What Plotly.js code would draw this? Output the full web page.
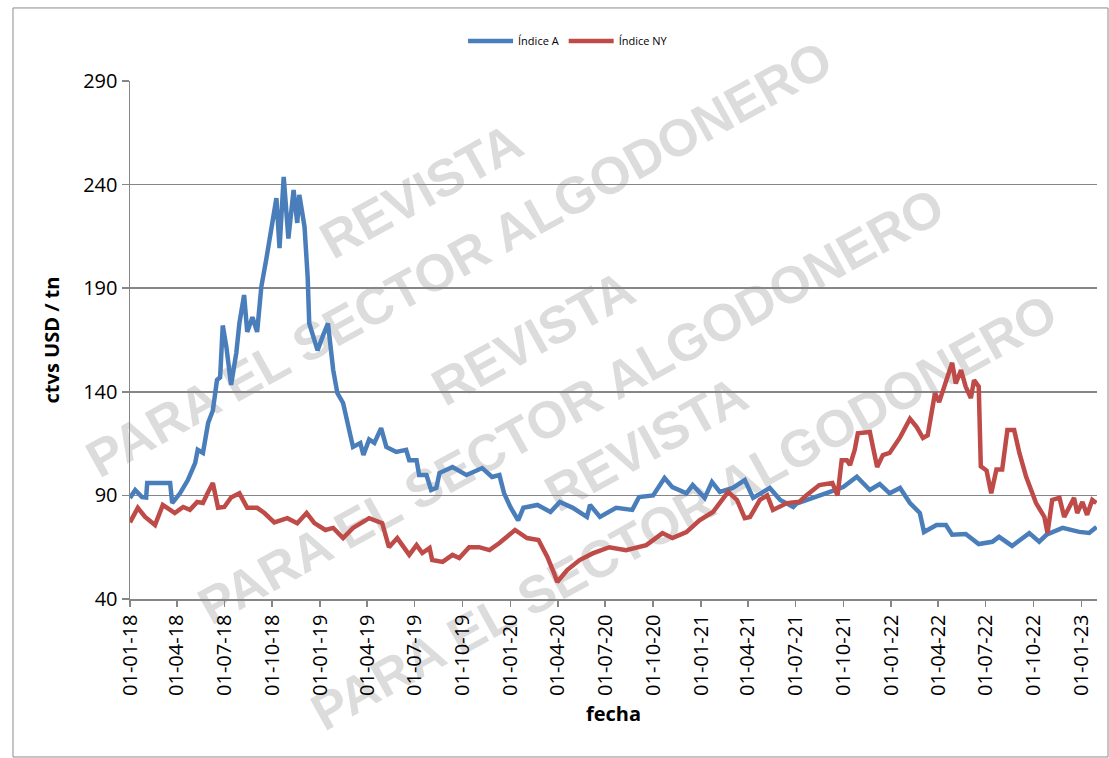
<!DOCTYPE html>
<html>
<head>
<meta charset="utf-8">
<script src="https://cdn.plot.ly/plotly-3.0.1.min.js"></script>
<style>
  html, body { margin:0; padding:0; background:#ffffff; overflow:hidden; }
  #wrap { position:relative; width:1109px; height:758px; overflow:hidden; }
  #wm { position:absolute; left:0; top:0; width:1109px; height:758px; z-index:0; }
  .wmb { position:absolute; transform:translate(-50%,-50%) rotate(-29deg); font-family:'Liberation Sans',Arial,sans-serif; font-weight:bold; font-size:52px; line-height:1.5; color:#dcdcdc; text-align:center; white-space:nowrap; }
  #chart { position:absolute; left:0; top:0; width:1109px; height:758px; z-index:1; }
</style>
</head>
<body>
<div id="wrap">
  <div id="wm">
    <div class="wmb" style="left:440px; top:225px;">REVISTA<br>PARA EL SECTOR ALGODONERO</div>
    <div class="wmb" style="left:552px; top:372px;">REVISTA<br>PARA EL SECTOR ALGODONERO</div>
    <div class="wmb" style="left:665px; top:478px;">REVISTA<br>PARA EL SECTOR ALGODONERO</div>
  </div>
  <div id="chart"></div>
</div>
<script>
// ---- Data ----
const datesA = [
 '2018-01-01','2018-01-11','2018-01-24','2018-02-01','2018-02-03','2018-03-19','2018-03-23','2018-04-07','2018-04-22','2018-05-06',
 '2018-05-11','2018-05-21','2018-05-31','2018-06-09','2018-06-17','2018-06-23','2018-06-28','2018-07-05','2018-07-14','2018-07-24',
 '2018-07-30','2018-08-08','2018-08-14','2018-08-24','2018-09-02','2018-09-10','2018-09-20','2018-09-29','2018-10-09','2018-10-15',
 '2018-10-23','2018-11-01','2018-11-11','2018-11-18','2018-11-22','2018-12-02','2018-12-08','2018-12-11','2018-12-21','2018-12-27',
 '2019-01-07','2019-01-16','2019-01-26','2019-02-03','2019-02-14','2019-02-28','2019-03-05','2019-03-19','2019-03-25','2019-04-05',
 '2019-04-15','2019-04-28','2019-05-08','2019-05-27','2019-06-15','2019-06-21','2019-07-05','2019-07-10','2019-07-24','2019-08-02',
 '2019-08-12','2019-08-18','2019-09-12','2019-10-09','2019-11-08','2019-11-27','2019-12-11','2019-12-20','2020-01-01','2020-01-16',
 '2020-01-26','2020-02-22','2020-03-18','2020-04-05','2020-04-30','2020-05-27','2020-06-02','2020-06-21','2020-07-22','2020-08-22',
 '2020-09-04','2020-10-01','2020-10-23','2020-11-07','2020-12-04','2020-12-16','2021-01-08','2021-01-22','2021-02-06','2021-03-03',
 '2021-03-26','2021-04-11','2021-05-13','2021-06-02','2021-06-27','2021-07-03','2021-08-03','2021-09-04','2021-10-01','2021-10-27',
 '2021-11-21','2021-12-10','2021-12-29','2022-01-18','2022-02-06','2022-02-25','2022-03-05','2022-03-29','2022-04-16','2022-04-28',
 '2022-05-24','2022-06-18','2022-07-14','2022-07-27','2022-08-21','2022-09-23','2022-10-12','2022-10-26','2022-11-26','2022-12-28',
 '2023-01-16','2023-01-30'
];
const indiceA = [
 88.8,92.6,89.2,89,96,96,86.3,91,97.4,105.6,
 112,110.5,125,131,145.7,147,172,161.6,143.3,158.7,
 173.2,186.7,168.9,176,168.9,190.6,204.6,217,233.5,209.4,
 243.7,214,237.4,221.5,235,219.6,195.4,173,164,160,
 167.5,173,150.5,139.4,134.6,120,113.4,115.3,109.5,117,
 115.3,122.5,113.4,111,112,107,107,99.8,99.8,92.6,
 93.6,100.8,103.7,99.8,103.2,98.9,99.8,91,84.4,78,
 84,85.4,82,86.8,84,79.6,85.4,79.6,84,83,
 89.2,90,98.4,94,91,95,88.8,96.5,91.7,93.6,
 97.4,88.8,93.6,87.8,84.4,86,89,91.6,94,99,
 92.6,95.5,91,93.6,86.3,81.5,72.3,75.7,75.7,71,
 71.4,66.5,67.6,70,65.6,71.8,67.6,71,74.3,72.4,
 71.9,74.8
];
const datesNY = [
 '2018-01-01','2018-01-16','2018-01-30','2018-02-18','2018-03-05','2018-03-28','2018-04-13','2018-04-26','2018-05-10','2018-05-21',
 '2018-05-31','2018-06-09','2018-06-19','2018-07-01','2018-07-14','2018-07-30','2018-08-14','2018-09-02','2018-09-16','2018-10-05',
 '2018-10-30','2018-11-18','2018-12-06','2018-12-21','2019-01-11','2019-01-26','2019-02-14','2019-03-05','2019-04-05','2019-04-30',
 '2019-05-13','2019-05-29','2019-06-21','2019-07-05','2019-07-16','2019-07-30','2019-08-04','2019-08-24','2019-09-12','2019-09-25',
 '2019-10-14','2019-11-02','2019-11-22','2019-12-11','2020-01-10','2020-02-02','2020-02-24','2020-03-12','2020-03-24','2020-03-31',
 '2020-04-19','2020-05-13','2020-06-07','2020-07-09','2020-08-10','2020-09-18','2020-10-19','2020-11-07','2020-12-04','2020-12-29',
 '2021-01-24','2021-02-22','2021-03-11','2021-03-26','2021-04-05','2021-04-24','2021-05-08','2021-05-19','2021-06-15','2021-07-09',
 '2021-07-22','2021-08-16','2021-09-10','2021-09-20','2021-09-28','2021-10-08','2021-10-14','2021-10-23','2021-10-29','2021-11-21',
 '2021-11-27','2021-12-05','2021-12-16','2021-12-29','2022-01-18','2022-02-06','2022-02-19','2022-03-03','2022-03-12','2022-03-26',
 '2022-04-03','2022-04-16','2022-04-28','2022-05-05','2022-05-15','2022-05-24','2022-06-03','2022-06-09','2022-06-18','2022-06-22',
 '2022-07-03','2022-07-12','2022-07-22','2022-08-02','2022-08-12','2022-08-25','2022-09-04','2022-09-17','2022-10-06','2022-10-22',
 '2022-10-28','2022-11-06','2022-11-20','2022-11-29','2022-12-09','2022-12-18','2022-12-24','2023-01-03','2023-01-12','2023-01-22',
 '2023-01-30'
];
const indiceNY = [
 77,84,79.6,75.7,85.4,81.5,84.4,83,86.8,86.3,
 91.6,96,84,84.4,89,91,84,84,81.5,77,
 79,76.6,81.5,76.6,73.3,74.3,69.4,74.3,79,76.6,
 65,69.4,61.3,66,62.2,64.6,58.8,57.9,61.3,59.8,
 65,65,63.6,67,73.3,69.4,68.5,60.3,53,48.2,
 54,58.8,62,65,63.6,66,71.8,69.4,72.3,78,
 82,91.7,87.8,79,79.6,87.8,90,83,86.3,87,
 90,95,96,90,107,107,104.6,112,120,120.6,
 113.4,103.7,109.5,110.5,118,127,123,117.7,119,139.4,
 135,144.3,154,144,150.5,142.5,137,145.6,142.5,104,
 102,91,102.5,102.5,121.6,121.6,110.5,99,86.3,79.6,
 71.8,87.8,88.8,79.6,85,88.8,81.5,86.8,80.6,87.8,
 86.3
];
const tickDates = ['2018-01-01','2018-04-01','2018-07-01','2018-10-01','2019-01-01','2019-04-01','2019-07-01','2019-10-01',
 '2020-01-01','2020-04-01','2020-07-01','2020-10-01','2021-01-01','2021-04-01','2021-07-01','2021-10-01',
 '2022-01-01','2022-04-01','2022-07-01','2022-10-01','2023-01-01'];
const tickLabels = ['01-01-18','01-04-18','01-07-18','01-10-18','01-01-19','01-04-19','01-07-19','01-10-19',
 '01-01-20','01-04-20','01-07-20','01-10-20','01-01-21','01-04-21','01-07-21','01-10-21',
 '01-01-22','01-04-22','01-07-22','01-10-22','01-01-23'];
const yTicks = [40, 90, 140, 190, 240, 290];
const seriesNames = ['Índice A', 'Índice NY'];

// ---- Chart ----
const FONT = "'Open Sans', 'Liberation Sans', sans-serif";
const traces = [
  { x: datesA, y: indiceA, name: seriesNames[0], type: 'scatter', mode: 'lines',
    line: { color: '#4A7EBB', width: 4.5, shape: 'linear' } },
  { x: datesNY, y: indiceNY, name: seriesNames[1], type: 'scatter', mode: 'lines',
    line: { color: '#BE4B48', width: 4.5, shape: 'linear' } }
];
const layout = {
  width: 1109, height: 758,
  margin: { l: 130, r: 12, t: 81, b: 159, autoexpand: false },
  paper_bgcolor: 'rgba(0,0,0,0)',
  plot_bgcolor: 'rgba(0,0,0,0)',
  font: { family: FONT, color: '#000000' },
  showlegend: true,
  legend: { orientation: 'h', x: 0.453, xanchor: 'center', y: 1.077, yanchor: 'middle',
    font: { size: 11, family: FONT, color: '#000' }, itemwidth: 45, bgcolor: 'rgba(0,0,0,0)',
    tracegroupgap: 0 },
  xaxis: {
    type: 'date',
    range: ['2018-01-01', '2023-01-31'],
    tickmode: 'array', tickvals: tickDates, ticktext: tickLabels,
    tickangle: -90,
    tickfont: { size: 20, family: FONT, color: '#000' },
    ticks: 'outside', ticklen: 6, tickwidth: 1.5, tickcolor: '#868686',
    showline: true, linecolor: '#868686', linewidth: 1.5,
    showgrid: false, zeroline: false,
    title: { text: '<b>fecha</b>', font: { size: 20, family: FONT, color: '#000' }, standoff: 12 }
  },
  yaxis: {
    range: [40, 290],
    tickmode: 'array', tickvals: yTicks,
    tickfont: { size: 20, family: FONT, color: '#000' },
    ticks: 'outside', ticklen: 7, tickwidth: 1.5, tickcolor: '#868686',
    showline: true, linecolor: '#868686', linewidth: 1.5,
    showgrid: true, gridcolor: '#868686', gridwidth: 1.5,
    zeroline: false,
    title: { text: '<b>ctvs USD / tn</b>', font: { size: 20, family: FONT, color: '#000' }, standoff: 18 }
  },
  shapes: [
    { type: 'rect', xref: 'paper', yref: 'paper', x0: -0.121, x1: 1.0114, y0: -0.305, y1: 1.141,
      line: { color: '#8c8c8c', width: 1 }, fillcolor: 'rgba(0,0,0,0)', layer: 'below' }
  ]
};
Plotly.newPlot('chart', traces, layout, { displayModeBar: false, staticPlot: true });
</script>
</body>
</html>
